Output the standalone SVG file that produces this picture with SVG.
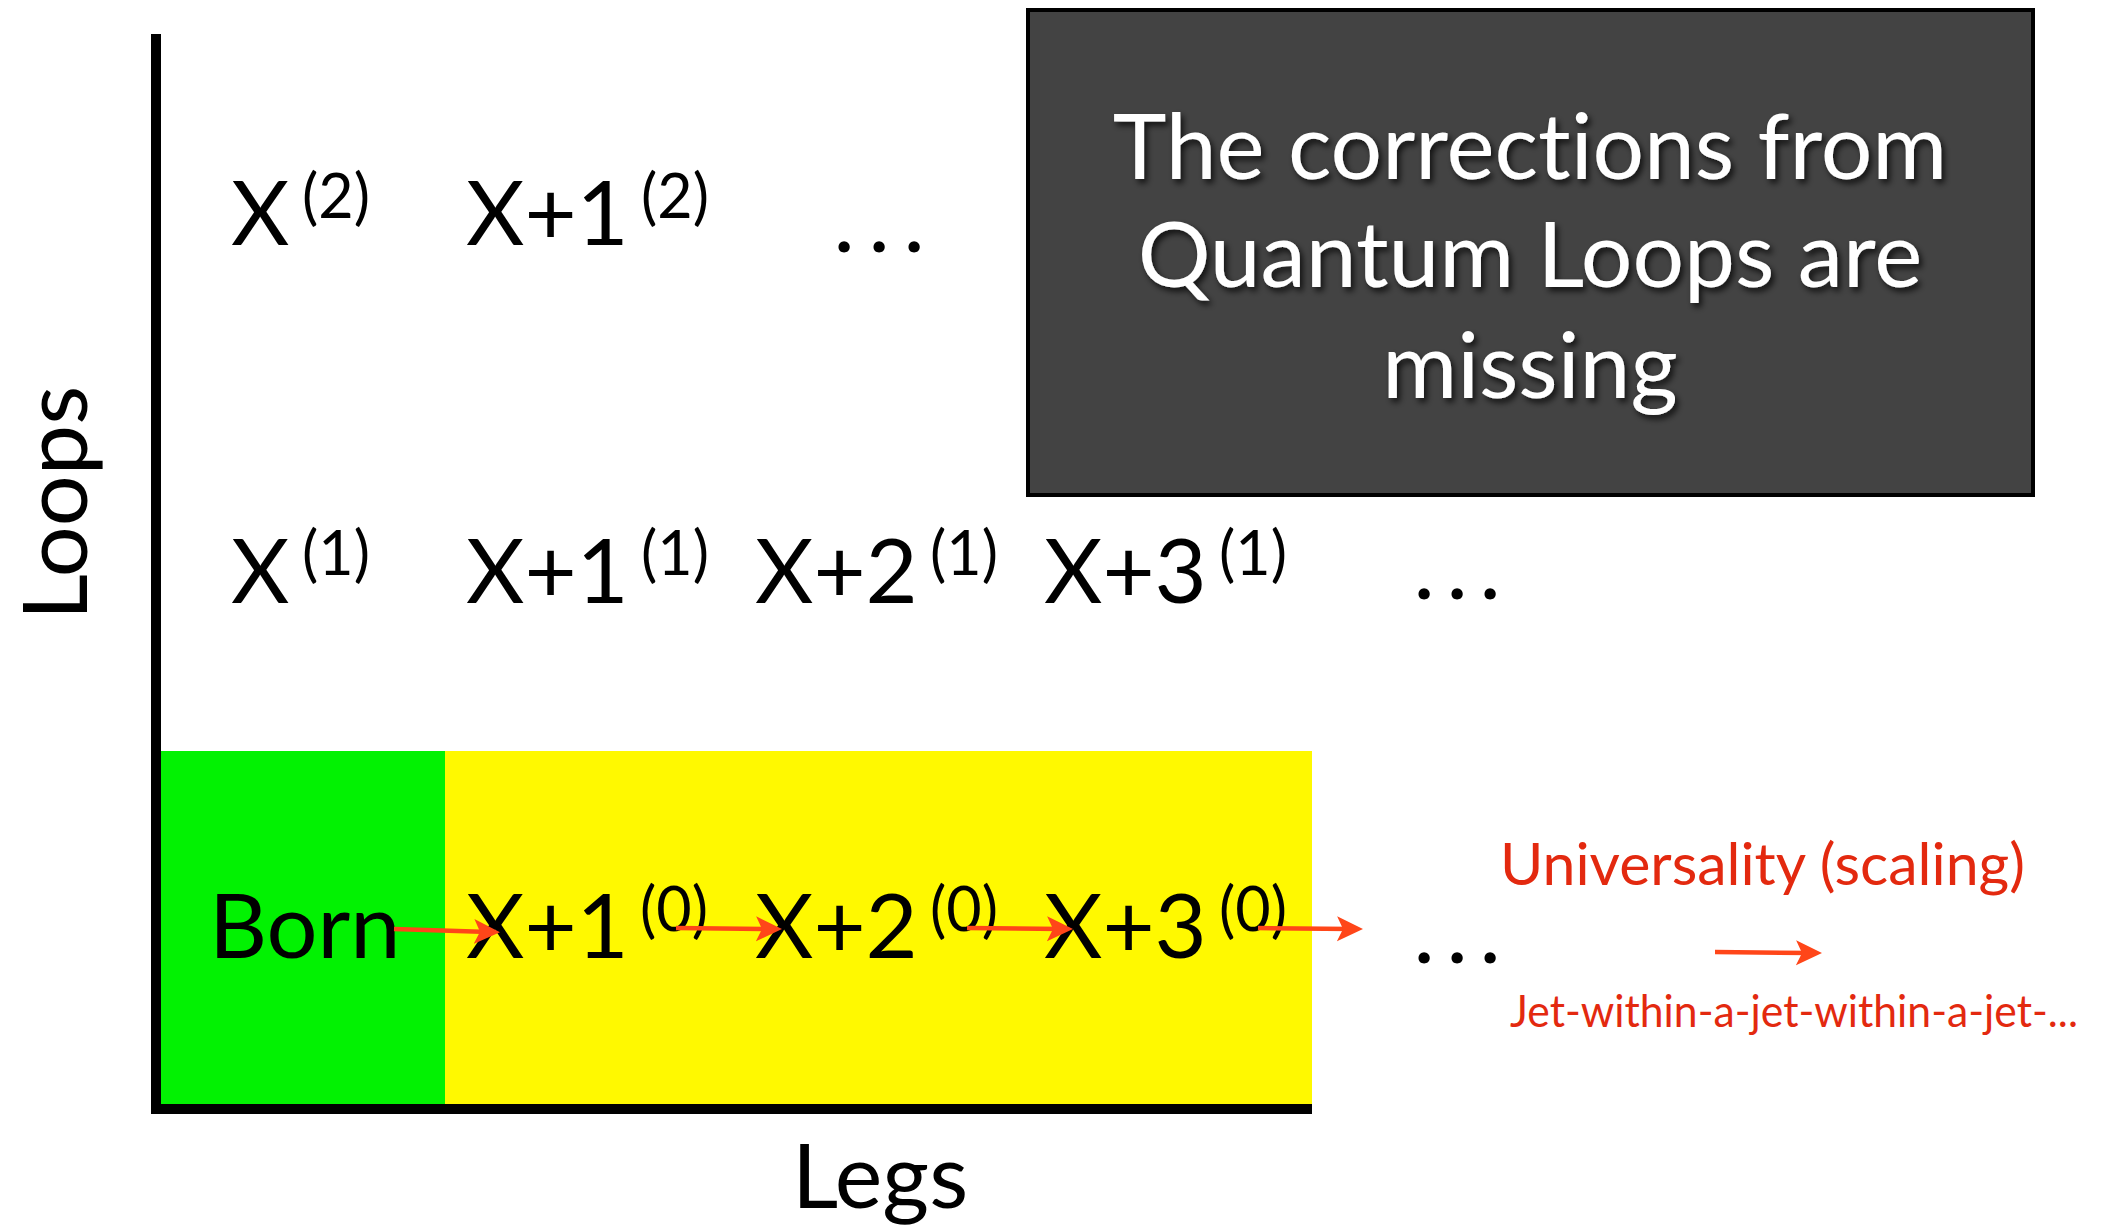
<svg xmlns="http://www.w3.org/2000/svg" width="2107" height="1225" viewBox="0 0 2107 1225">
<style>
text{font-variant-ligatures:none;}
.t{font-family:Lato,"Open Sans","Liberation Sans",sans-serif;fill:#000;}
.m{font-size:90px;}
.s{font-size:61px;}
.box{font-family:Lato,"Open Sans","Liberation Sans",sans-serif;font-size:91px;fill:#fff;text-anchor:middle;}
.red{font-family:Lato,"Open Sans","Liberation Sans",sans-serif;fill:#e3290f;}
.arr{stroke:#ff4619;stroke-width:4.5;fill:none;marker-end:url(#ah);}
.ax{stroke:#000;stroke-width:10;}
</style>
<defs>
<marker id="ah" viewBox="0 0 26 26" refX="15" refY="13" markerWidth="26" markerHeight="26" markerUnits="userSpaceOnUse" orient="auto">
<path d="M0,0.5 L26,13 L0,25.5 L6,13 Z" fill="#ff4619"/>
</marker>
<filter id="sh" x="-10%" y="-30%" width="120%" height="160%">
<feDropShadow dx="3" dy="4" stdDeviation="3" flood-color="#000" flood-opacity="0.75"/>
</filter>
</defs>
<rect width="2107" height="1225" fill="#fff"/>

<g id="regions">
<rect id="born-region" x="161" y="751" width="284" height="353" fill="#02f202"/>
<rect id="tree-region" x="445" y="751" width="867" height="353" fill="#fff900"/>
</g>

<g id="axes">
<line class="ax" x1="156" y1="34" x2="156" y2="1114"/>
<line class="ax" x1="151" y1="1109" x2="1312" y2="1109"/>
<text class="t m" text-anchor="middle" transform="translate(87,503) rotate(-90)">Loops</text>
<text class="t m" x="880" y="1208" text-anchor="middle">Legs</text>
</g>

<g id="row2">
<g id="x-2"><text class="t m" x="231" y="245">X</text><text class="t s" x="302" y="218">(2)</text></g>
<g id="x1-2"><text class="t m" x="466" y="245">X+1</text><text class="t s" x="641" y="218">(2)</text></g>
<g id="dots-2"><text class="t m" x="844 879 914" y="252" text-anchor="middle">...</text></g>
</g>

<g id="row1">
<g id="x-1"><text class="t m" x="231" y="603">X</text><text class="t s" x="302" y="575">(1)</text></g>
<g id="x1-1"><text class="t m" x="466" y="603">X+1</text><text class="t s" x="641" y="575">(1)</text></g>
<g id="x2-1"><text class="t m" x="755" y="603">X+2</text><text class="t s" x="930" y="575">(1)</text></g>
<g id="x3-1"><text class="t m" x="1044" y="603">X+3</text><text class="t s" x="1219" y="575">(1)</text></g>
<g id="dots-1"><text class="t m" x="1424 1457 1490" y="599" text-anchor="middle">...</text></g>
</g>

<g id="row0">
<g id="born"><text class="t m" x="209" y="958">Born</text></g>
<g id="x1-0"><text class="t m" x="466" y="958">X+1</text><text class="t s" x="640" y="931">(0)</text></g>
<g id="x2-0"><text class="t m" x="755" y="958">X+2</text><text class="t s" x="930" y="931">(0)</text></g>
<g id="x3-0"><text class="t m" x="1044" y="958">X+3</text><text class="t s" x="1219" y="931">(0)</text></g>
<g id="dots-0"><text class="t m" x="1424 1457 1490" y="963" text-anchor="middle">...</text></g>
</g>

<g id="note">
<rect x="1028" y="10" width="1005" height="485" fill="#434343" stroke="#000" stroke-width="4"/>
<g filter="url(#sh)">
<text class="box" x="1530" y="179">The corrections from</text>
<text class="box" x="1530" y="287">Quantum Loops are</text>
<text class="box" x="1530" y="398">missing</text>
</g>
</g>

<g id="universality">
<text class="red" x="1500" y="885" font-size="59">Universality (scaling)</text>
<text class="red" x="1510" y="1027" font-size="44" textLength="568" lengthAdjust="spacingAndGlyphs">Jet-within-a-jet-within-a-jet-...</text>
</g>

<g id="connectors">
<path class="arr" d="M394,929 L489,932"/>
<path class="arr" d="M676,928 L771,929"/>
<path class="arr" d="M967,928 L1062,929"/>
<path class="arr" d="M1258,928 L1352,929"/>
<path class="arr" d="M1715,952 L1811,953"/>
</g>
</svg>
